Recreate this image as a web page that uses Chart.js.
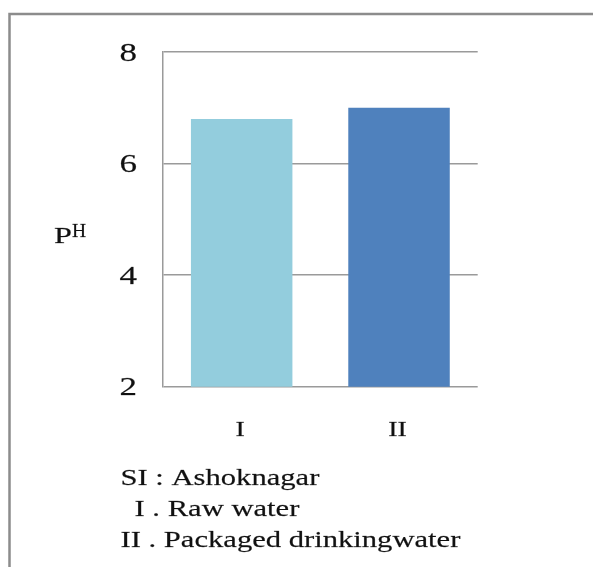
<!DOCTYPE html>
<html>
<head>
<meta charset="utf-8">
<script src="https://cdn.jsdelivr.net/npm/chart.js@4.4.1/dist/chart.umd.min.js"></script>
<style>
  html, body { margin: 0; padding: 0; background: #fff; }
  #wrap { position: relative; width: 593px; height: 567px; }
</style>
</head>
<body>
<div id="wrap"><canvas id="chart" width="593" height="567"></canvas></div>
<script>
// pH of water samples at site SI (Ashoknagar)
const categories = ['I', 'II'];
const phValues = [6.8, 7.0];
const barColors = ['#93CDDD', '#4F81BD'];
const yTicks = { min: 2, max: 8, step: 2 };
const noteLines = [
  { text: 'SI : Ashoknagar', indent: 0 },
  { text: 'I . Raw water', indent: 14 },
  { text: 'II . Packaged drinkingwater', indent: 0 }
];

const SERIF = '"Liberation Serif", "Times New Roman", serif';
const STRETCH = 1.4;

// wide serif text, with a faint hairline stroke for a touch more weight
function wideText(ctx, text, x, y, size, align, sx) {
  ctx.save();
  ctx.font = size + 'px ' + SERIF;
  ctx.fillStyle = '#111';
  ctx.strokeStyle = 'rgba(17,17,17,0.6)';
  ctx.lineWidth = 0.3;
  ctx.lineJoin = 'round';
  ctx.textAlign = align;
  ctx.textBaseline = 'alphabetic';
  ctx.translate(x, y);
  ctx.scale(sx, 1);
  ctx.fillText(text, 0, 0);
  ctx.strokeText(text, 0, 0);
  ctx.restore();
}

const framePlugin = {
  id: 'frame',
  beforeDraw(chart) {
    const ctx = chart.ctx;
    ctx.save();
    ctx.strokeStyle = '#8c8c8c';
    ctx.lineWidth = 2.5;
    ctx.beginPath();
    ctx.moveTo(9.5, chart.height + 2);
    ctx.lineTo(9.5, 14);
    ctx.lineTo(chart.width + 2, 14);
    ctx.stroke();
    ctx.restore();
  }
};

const labelsPlugin = {
  id: 'labels',
  afterDraw(chart) {
    const ctx = chart.ctx;
    const y = chart.scales.y;
    const x = chart.scales.x;
    // value axis labels
    y.ticks.forEach(t => {
      const py = y.getPixelForValue(t.value);
      wideText(ctx, String(t.value), 137, py + 8.5, 25, 'right', STRETCH);
    });
    // category labels
    categories.forEach((c, i) => {
      const px = x.getPixelForValue(i) - 1.5;
      wideText(ctx, c, px, 436, 20, 'center', STRETCH);
    });
    // axis title: P with superscript H
    wideText(ctx, 'P', 54, 243, 23, 'left', STRETCH);
    wideText(ctx, 'H', 72, 236.5, 19.5, 'left', 1.0);
    // sample key below the chart
    const baselines = [485, 516, 547];
    noteLines.forEach((ln, i) => {
      wideText(ctx, ln.text, 120.5 + ln.indent, baselines[i], 22.5, 'left', 1.36);
    });
  }
};

new Chart(document.getElementById('chart'), {
  type: 'bar',
  data: {
    labels: categories,
    datasets: [{
      data: phValues,
      backgroundColor: barColors,
      borderWidth: 0,
      barPercentage: 0.645,
      categoryPercentage: 1.0
    }]
  },
  options: {
    responsive: false,
    animation: false,
    devicePixelRatio: 1,
    layout: { padding: { left: 163, right: 115.3, top: 52, bottom: 180.3 } },
    plugins: { legend: { display: false }, tooltip: { enabled: false }, title: { display: false } },
    scales: {
      x: {
        grid: { display: false, drawTicks: false },
        border: { display: false },
        ticks: { display: false },
        afterFit(s) { s.height = 0; }
      },
      y: {
        min: yTicks.min,
        max: yTicks.max,
        ticks: { display: false, stepSize: yTicks.step },
        grid: { color: '#9a9a9a', lineWidth: 1.5, drawTicks: false },
        border: { display: true, color: '#9a9a9a', width: 1.5 },
        afterFit(s) { s.width = 0; }
      }
    }
  },
  plugins: [framePlugin, labelsPlugin]
});
</script>
</body>
</html>
